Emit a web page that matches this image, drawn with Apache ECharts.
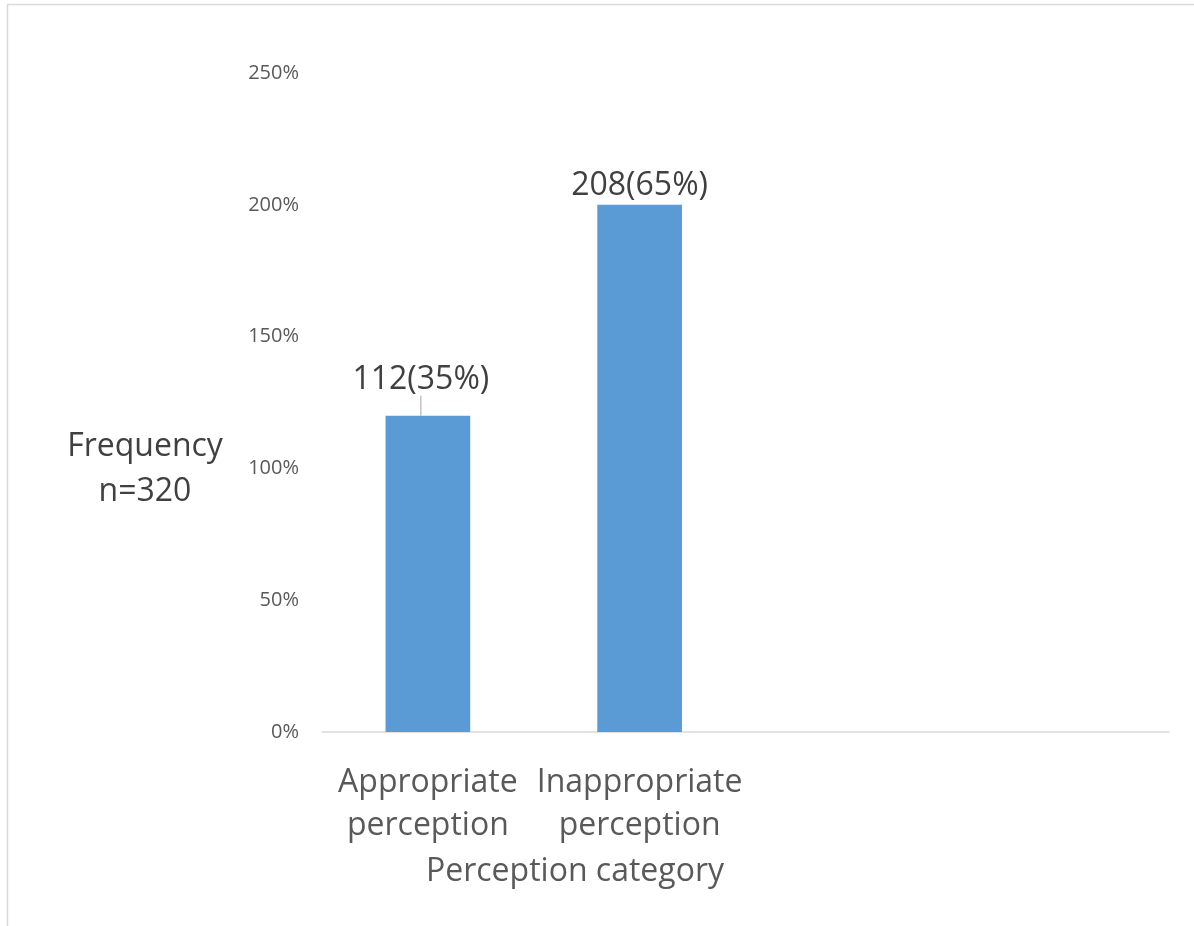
<!DOCTYPE html>
<html>
<head>
    <meta charset="UTF-8">
    <title>Perception category</title>
    <script src="https://cdn.jsdelivr.net/npm/echarts@6/dist/echarts.min.js"></script>
    <style>
        html, body { margin: 0; padding: 0; background: #fff; }
        #main { width: 1194px; height: 926px; }
    </style>
</head>
<body>
<div id="main"></div>
<script>
    // data
    var categories = ['Appropriate\nperception', 'Inappropriate\nperception', '', ''];
    var values = [120, 200];
    var valueLabels = ['112(35%)', '208(65%)'];
    var yTicks = { min: 0, max: 250, interval: 50 };

    var font = '"Open Sans", "Noto Sans", sans-serif';

    var chart = echarts.init(document.getElementById('main'));

    var seriesData = values.map(function (v, i) {
        var item = { value: v };
        if (i === 0) {
            item.labelLine = { show: true, lineStyle: { color: '#a6a6a6', width: 1 } };
        }
        return item;
    });

    var option = {
        animation: false,
        grid: { left: 322, right: 25, top: 73, bottom: 194 },
        xAxis: {
            type: 'category',
            data: categories,
            axisLine: { show: true, lineStyle: { color: '#d9d9d9', width: 1.5 } },
            axisTick: { show: false },
            axisLabel: {
                interval: 0,
                color: '#595959',
                fontFamily: font,
                fontSize: 32,
                lineHeight: 43,
                margin: 29
            }
        },
        yAxis: {
            type: 'value',
            min: yTicks.min,
            max: yTicks.max,
            interval: yTicks.interval,
            axisLine: { show: false },
            axisTick: { show: false },
            splitLine: { show: false },
            axisLabel: {
                color: '#595959',
                fontFamily: font,
                fontSize: 20,
                margin: 23,
                formatter: '{value}%'
            }
        },
        series: [{
            type: 'bar',
            data: seriesData,
            barWidth: '40%',
            itemStyle: { color: '#5b9bd5' },
            label: {
                show: true,
                position: 'top',
                distance: 3,
                color: '#404040',
                fontFamily: font,
                fontSize: 32,
                formatter: function (p) { return valueLabels[p.dataIndex]; }
            },
            labelLayout: function (p) {
                if (p.dataIndex === 0) return { dx: -7, dy: -17 };
            }
        }],
        graphic: [
            {
                type: 'rect',
                silent: true,
                shape: { x: 7.5, y: 4.5, width: 1400, height: 1000 },
                style: { fill: 'none', stroke: '#d9d9d9', lineWidth: 1.5 }
            },
            {
                type: 'text',
                x: 145,
                y: 469,
                style: {
                    text: 'Frequency\nn=320',
                    align: 'center',
                    verticalAlign: 'middle',
                    fill: '#404040',
                    font: '32px ' + font,
                    lineHeight: 45
                }
            },
            {
                type: 'text',
                x: 575,
                y: 872,
                style: {
                    text: 'Perception category',
                    align: 'center',
                    verticalAlign: 'middle',
                    fill: '#595959',
                    font: '32px ' + font
                }
            }
        ]
    };
    chart.setOption(option);
</script>
</body>
</html>
